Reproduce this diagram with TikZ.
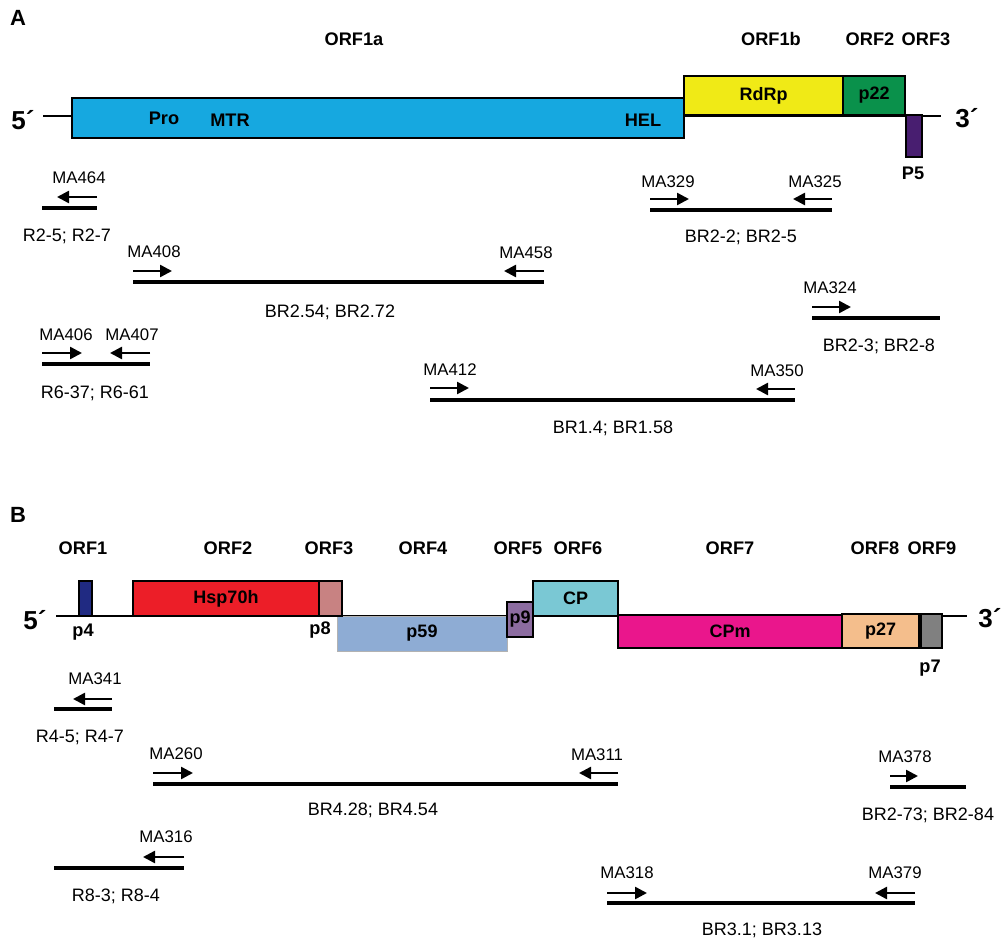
\documentclass[tikz,border=0pt]{standalone}
\usepackage{fontspec}
\setmainfont{Liberation Sans}
\usetikzlibrary{arrows.meta}
\definecolor{cblue}{RGB}{22,168,224}
\definecolor{cyellow}{RGB}{240,234,22}
\definecolor{cgreen}{RGB}{10,145,75}
\definecolor{cpurple}{RGB}{72,30,112}
\definecolor{cnavy}{RGB}{32,42,130}
\definecolor{cred}{RGB}{236,30,40}
\definecolor{cpink}{RGB}{200,130,130}
\definecolor{csteel}{RGB}{142,172,212}
\definecolor{cmauve}{RGB}{140,108,160}
\definecolor{cteal}{RGB}{122,200,212}
\definecolor{cmagenta}{RGB}{234,22,140}
\definecolor{cpeach}{RGB}{244,190,140}
\definecolor{cgray}{RGB}{128,128,128}
\newcommand\myprimer[4]{\coordinate (#1s) at (#2,#4); \coordinate (#1e) at (#3,#4); \draw[prm] (#1s) -- (#1e);}
\newcommand\myamp[4]{\coordinate (#1s) at (#2,#4); \coordinate (#1e) at (#3,#4); \draw[amp] (#1s) -- (#1e);}
\begin{document}
\begin{tikzpicture}[x=1pt,y=-1pt,
  lbl/.style={font=\fontsize{16.8}{18}\selectfont, inner sep=0pt},
  ampl/.style={font=\fontsize{18}{20}\selectfont, inner sep=0pt},
  orf/.style={font=\fontsize{18.2}{20}\selectfont\bfseries, inner sep=0pt},
  endlbl/.style={font=\fontsize{26}{28}\selectfont\bfseries, inner sep=0pt},
  panel/.style={font=\fontsize{22}{24}\selectfont\bfseries, inner sep=0pt},
  gbox/.style={draw=black, line width=1.3pt, inner sep=0pt, font=\fontsize{18}{20}\selectfont\bfseries},
  gline/.style={line width=2pt, black},
  amp/.style={line width=3.5pt, black},
  prm/.style={line width=2.5pt, black, -{Triangle[length=12pt,width=12pt]}}
]
\useasboundingbox (0,0) rectangle (1001,941);
% ---------------- Panel A ----------------
\node[panel] (A) at (18,18) {A};
\node[orf] (orf1a) at (354,39) {ORF1a};
\node[orf] (orf1b) at (771,39) {ORF1b};
\node[orf] (orfA2) at (870,39) {ORF2};
\node[orf] (orfA3) at (926,39) {ORF3};
\node[endlbl] (a5) at (23,120) {5´};
\node[endlbl] (a3) at (967,118) {3´};
\coordinate (ga5) at (43,116); \coordinate (ga3) at (941,116);
\draw[gline] (ga5) -- (ga3);
\node[gbox, fill=cblue, minimum width=612pt, minimum height=40pt] (orf1abox) at (378,118) {};
\node[gbox, fill=cyellow, minimum width=159pt, minimum height=39pt] (rdrp) at (763.5,95.5) {RdRp};
\node[gbox, fill=cgreen, minimum width=62pt, minimum height=39pt] (p22) at (874,95.5) {p22};
\node[gbox, fill=cpurple, minimum width=16pt, minimum height=42pt] (p5box) at (914,136) {};
\node[orf] (pro) at (164,118) {Pro};
\node[orf] (mtr) at (230,120) {MTR};
\node[orf] (hel) at (643,120) {HEL};
\node[orf] (p5) at (913,173) {P5};
% primers A
\node[lbl] (n464) at (79,178) {MA464};
\myprimer{pr464}{97}{57}{197}
\myamp{am1}{42}{97}{208}
\node[ampl] (r25) at (67,236) {R2-5; R2-7};

\node[lbl] (n329) at (668,182) {MA329};
\node[lbl] (n325) at (815,182) {MA325};
\myprimer{pr329}{650}{689}{199}
\myprimer{pr325}{832}{793}{199}
\myamp{am2}{650}{832}{210}
\node[ampl] (br22) at (741,237) {BR2-2; BR2-5};

\node[lbl] (n408) at (154,252) {MA408};
\node[lbl] (n458) at (526,253) {MA458};
\myprimer{pr408}{133}{172}{271}
\myprimer{pr458}{544}{504}{271}
\myamp{am3}{133}{544}{282}
\node[ampl] (br254) at (330,312) {BR2.54; BR2.72};

\node[lbl] (n324) at (830,288) {MA324};
\myprimer{pr324}{812}{851}{307}
\myamp{am4}{812}{940}{318}
\node[ampl] (br23) at (879,346) {BR2-3; BR2-8};

\node[lbl] (n406) at (66,335) {MA406};
\node[lbl] (n407) at (132,335) {MA407};
\myprimer{pr406}{42}{82}{353}
\myprimer{pr407}{150}{110}{353}
\myamp{am5}{42}{150}{364}
\node[ampl] (r637) at (95,393) {R6-37; R6-61};

\node[lbl] (n412) at (450,370) {MA412};
\node[lbl] (n350) at (777,371) {MA350};
\myprimer{pr412}{430}{469}{388}
\myprimer{pr350}{795}{756}{389}
\myamp{am6}{430}{795}{400}
\node[ampl] (br14) at (613,428) {BR1.4; BR1.58};
% ---------------- Panel B ----------------
\node[panel] (B) at (18,515) {B};
\node[orf] (ob1) at (83,548) {ORF1};
\node[orf] (ob2) at (228,548) {ORF2};
\node[orf] (ob3) at (329,548) {ORF3};
\node[orf] (ob4) at (423,548) {ORF4};
\node[orf] (ob5) at (518,548) {ORF5};
\node[orf] (ob6) at (578,548) {ORF6};
\node[orf] (ob7) at (730,548) {ORF7};
\node[orf] (ob8) at (875,548) {ORF8};
\node[orf] (ob9) at (932,548) {ORF9};
\node[endlbl] (b5) at (35,620) {5´};
\node[endlbl] (b3) at (990,618) {3´};
\coordinate (gb5) at (56,616); \coordinate (gb3) at (967,616);
\draw[gline] (gb5) -- (gb3);
\node[gbox, fill=cnavy, minimum width=13pt, minimum height=35pt] (p4box) at (85.5,598.5) {};
\node[gbox, fill=cred, minimum width=186pt, minimum height=35pt] (hsp) at (226,598.5) {Hsp70h};
\node[gbox, draw=gray!60, line width=0.8pt, fill=csteel, minimum width=170pt, minimum height=35pt] (p59) at (422,633.5) {p59};
\node[gbox, fill=cpink, minimum width=23pt, minimum height=35pt] (p8box) at (330.5,598.5) {};
\node[gbox, fill=cmauve, minimum width=26pt, minimum height=35pt] (p9) at (520,619.5) {p9};
\node[gbox, fill=cteal, minimum width=85pt, minimum height=35pt] (cp) at (575.5,598.5) {CP};
\node[gbox, fill=cmagenta, minimum width=224pt, minimum height=33pt] (cpm) at (730,631.5) {CPm};
\node[gbox, fill=cpeach, minimum width=77pt, minimum height=34pt] (p27) at (880.5,631) {p27};
\node[gbox, fill=cgray, minimum width=21pt, minimum height=34pt] (p7box) at (931.5,631) {};
\node[orf] (p4) at (83,632) {p4};
\node[orf] (p8) at (320,630) {p8};
\node[orf] (p7) at (930,668) {p7};
% primers B
\node[lbl] (n341) at (95,679) {MA341};
\myprimer{pr341}{112}{73}{699}
\myamp{bm1}{54}{112}{709}
\node[ampl] (r45) at (80,737) {R4-5; R4-7};

\node[lbl] (n260) at (176,754) {MA260};
\node[lbl] (n311) at (597,755) {MA311};
\myprimer{pr260}{153}{193}{773}
\myprimer{pr311}{618}{579}{773}
\myamp{bm2}{153}{618}{784}
\node[ampl] (br428) at (373,810) {BR4.28; BR4.54};

\node[lbl] (n378) at (905,757) {MA378};
\myprimer{pr378}{890}{918}{776}
\myamp{bm3}{890}{966}{787}
\node[ampl] (br273) at (928,815) {BR2-73; BR2-84};

\node[lbl] (n316) at (166,837) {MA316};
\myprimer{pr316}{184}{143}{857}
\myamp{bm4}{54}{184}{868}
\node[ampl] (r83) at (116,896) {R8-3; R8-4};

\node[lbl] (n318) at (627,873) {MA318};
\node[lbl] (n379) at (895,873) {MA379};
\myprimer{pr318}{607}{647}{893}
\myprimer{pr379}{915}{875}{893}
\myamp{bm5}{607}{915}{903}
\node[ampl] (br31) at (762,930) {BR3.1; BR3.13};
\end{tikzpicture}
\end{document}
